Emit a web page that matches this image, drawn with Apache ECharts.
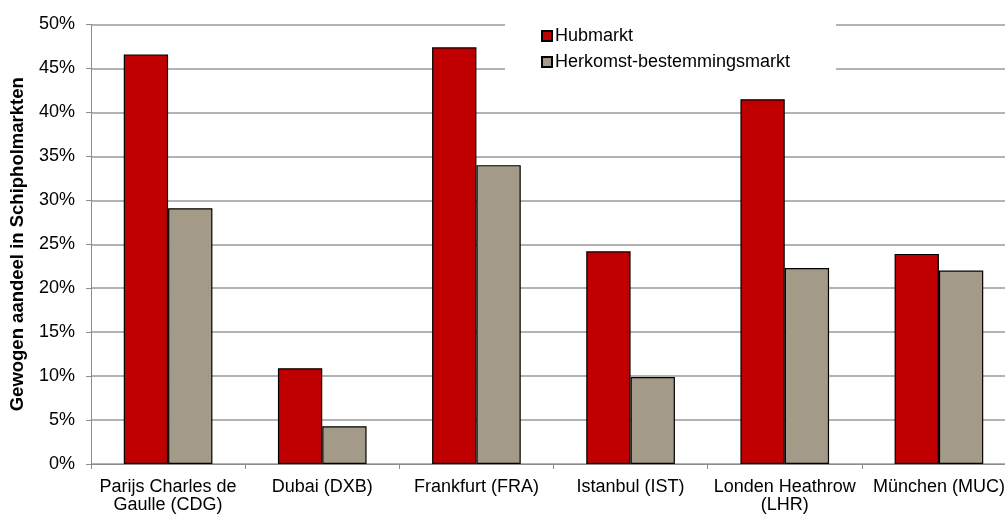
<!DOCTYPE html>
<html><head><meta charset="utf-8">
<script src="https://cdn.jsdelivr.net/npm/echarts@6/dist/echarts.min.js"></script>
<style>html,body{margin:0;padding:0;background:#fff;overflow:hidden}#c{width:1017px;height:516px}</style>
</head><body><div id="c"></div>
<script>
const categories = ["Parijs Charles de\nGaulle (CDG)", "Dubai (DXB)", "Frankfurt (FRA)", "Istanbul (IST)", "Londen Heathrow\n(LHR)", "München (MUC)"];
const seriesNames = ["Hubmarkt", "Herkomst-bestemmingsmarkt"];
const hubmarkt = [46.6, 10.9, 47.4, 24.2, 41.5, 23.9];
const herkomst = [29.1, 4.3, 34.0, 9.9, 22.3, 22.0];
const yTicks = [0, 5, 10, 15, 20, 25, 30, 35, 40, 45, 50];
const yTitle = "Gewogen aandeel in Schipholmarkten";

const font = "'Liberation Sans', Arial, sans-serif";
const chart = echarts.init(document.getElementById('c'), null, {renderer: 'canvas'});
chart.setOption({
  animation: false,
  backgroundColor: '#fff',
  textStyle: {fontFamily: font},
  grid: {left: 89, top: 24.5, bottom: 52, right: 1, containLabel: false},
  legend: {
    orient: 'vertical', left: 505, top: 15,
    padding: [12, 46, 10, 36],
    backgroundColor: '#fff',
    itemWidth: 10, itemHeight: 10, itemGap: 8,
    icon: 'rect',
    textStyle: {fontFamily: font, fontSize: 18, lineHeight: 18, color: '#000', padding: [0, 0, 0, -2]},
    data: seriesNames
  },
  xAxis: {
    type: 'category', data: categories,
    axisLine: {lineStyle: {color: '#8c8c8c', width: 1}},
    axisTick: {show: true, length: 5, lineStyle: {color: '#8c8c8c'}},
    axisLabel: {color: '#000', fontSize: 18, fontFamily: font, margin: 14, lineHeight: 18, interval: 0}
  },
  yAxis: {
    type: 'value', min: yTicks[0], max: yTicks[yTicks.length - 1], interval: 5,
    name: yTitle, nameLocation: 'middle', nameGap: 64, nameRotate: 90,
    nameTextStyle: {fontFamily: font, fontSize: 18.5, fontWeight: 'bold', color: '#000'},
    axisLine: {show: true, lineStyle: {color: '#8c8c8c', width: 1}},
    axisTick: {show: true, length: 5, lineStyle: {color: '#8c8c8c'}},
    axisLabel: {color: '#000', fontSize: 18, fontFamily: font, margin: 16, formatter: v => v + '%'},
    splitLine: {show: true, lineStyle: {color: '#9a9a9a', width: 1.5}}
  },
  series: [
    {name: seriesNames[0], type: 'bar', data: hubmarkt, barGap: '0%', barCategoryGap: '42.5%',
     itemStyle: {color: '#C00000', borderColor: '#000', borderWidth: 1.2}},
    {name: seriesNames[1], type: 'bar', data: herkomst, barGap: '0%', barCategoryGap: '42.5%',
     itemStyle: {color: '#A39A87', borderColor: '#000', borderWidth: 1.2}}
  ]
});
</script></body></html>
